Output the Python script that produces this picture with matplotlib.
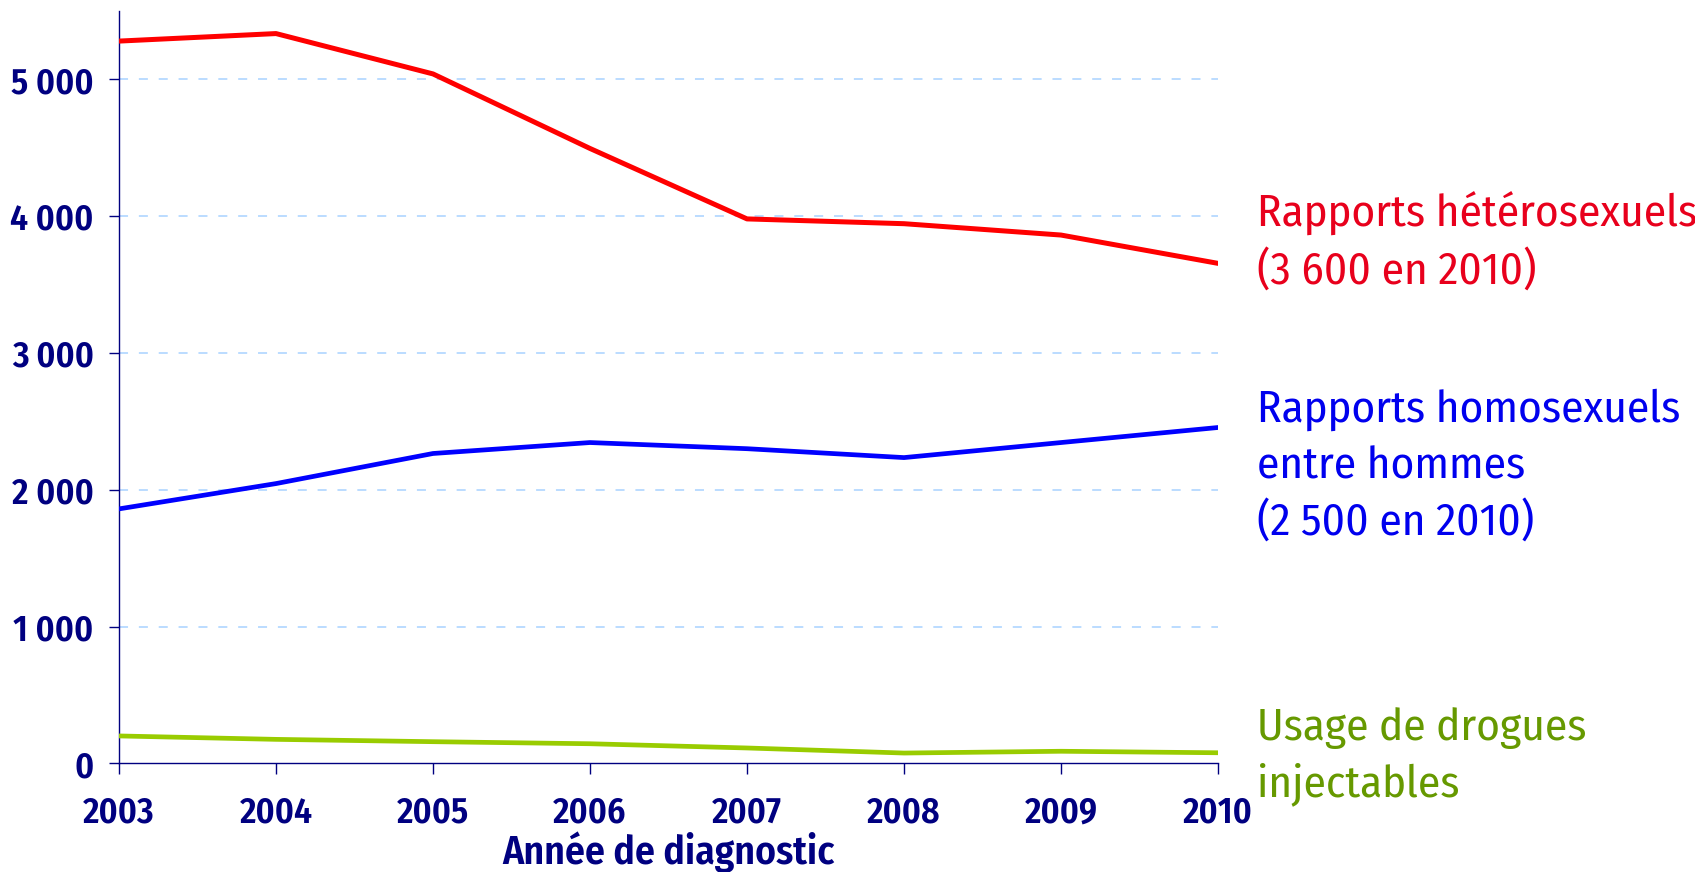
import matplotlib
matplotlib.use("Agg")
import matplotlib.pyplot as plt

years = [2003, 2004, 2005, 2006, 2007, 2008, 2009, 2010]
hetero = [5280, 5335, 5040, 4495, 3980, 3945, 3862, 3655]
homo = [1860, 2045, 2265, 2345, 2300, 2235, 2345, 2455]
drogues = [200, 175, 158, 143, 112, 75, 88, 77]
yticks = [0, 1000, 2000, 3000, 4000, 5000]
ytick_labels = ["0", "1 000", "2 000", "3 000", "4 000", "5 000"]

NAVY = "#000080"
FONT = ["Fira Sans Condensed", "PT Sans Narrow", "IBM Plex Sans Condensed", "DejaVu Sans"]
plt.rcParams["font.family"] = FONT

W, H = 1695, 872
fig = plt.figure(figsize=(W / 100, H / 100), dpi=100)
x0, x1, yb, yt = 119, 1218, 763.3, 11
ax = fig.add_axes([x0 / W, 1 - yb / H, (x1 - x0) / W, (yb - yt) / H])

for y in yticks[1:]:
    ax.axhline(y, xmin=0, xmax=1.0, color="#b5d9ff", lw=1.3,
               linestyle=(0, (5, 6)), zorder=1)

ax.plot(years, hetero, color="#ff0000", lw=3.6, zorder=3, solid_capstyle="round")
ax.plot(years, homo, color="#0000ff", lw=3.4, zorder=3, solid_capstyle="round")
ax.plot(years, drogues, color="#99cc00", lw=3.4, zorder=3, solid_capstyle="round")

ax.set_xlim(2003, 2010)
ax.set_ylim(0, 5500)
ax.set_xticks(years)
ax.set_xticklabels([str(y) for y in years])
ax.set_yticks(yticks)
ax.set_yticklabels(ytick_labels)

for s in ["top", "right"]:
    ax.spines[s].set_visible(False)
for s in ["left", "bottom"]:
    ax.spines[s].set_color(NAVY)
    ax.spines[s].set_linewidth(1.0)

ax.tick_params(axis="y", direction="out", length=7.2, width=1.0, color=NAVY,
               labelcolor=NAVY, labelsize=25.7, pad=11)
ax.tick_params(axis="x", direction="out", length=7.6, width=1.0, color=NAVY,
               labelcolor=NAVY, labelsize=25.7, pad=15)
for lab in ax.get_xticklabels() + ax.get_yticklabels():
    lab.set_fontweight(600)

ax.set_xlabel("Année de diagnostic", fontsize=28.5, color=NAVY,
              fontweight=600, labelpad=1)

def txt(x, y, s, c):
    fig.text(x / W, 1 - y / H, s, color=c, fontsize=32.5,
             ha="left", va="baseline")

txt(1257, 227, "Rapports hétérosexuels", "#e8001c")
txt(1257, 284, "(3 600 en 2010)", "#e8001c")
txt(1257, 421.7, "Rapports homosexuels", "#0000ee")
txt(1257, 478, "entre hommes", "#0000ee")
txt(1257, 535, "(2 500 en 2010)", "#0000ee")
txt(1257, 740, "Usage de drogues", "#669900")
txt(1257, 796.7, "injectables", "#669900")

fig.savefig("out.png", dpi=100)
